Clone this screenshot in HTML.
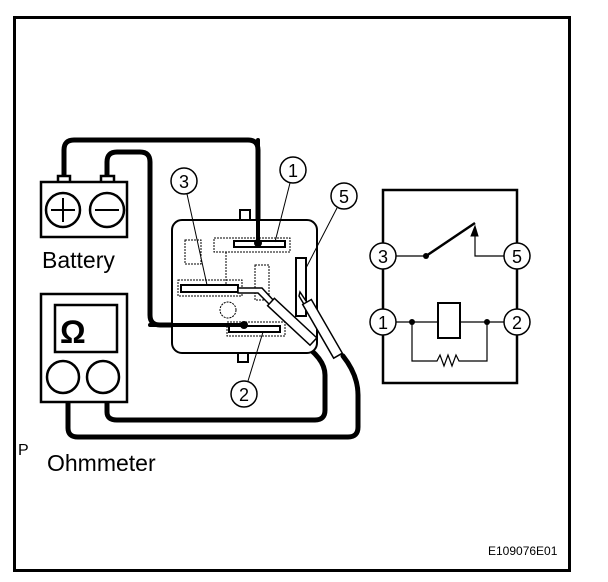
<!DOCTYPE html>
<html><head><meta charset="utf-8"><style>
html,body{margin:0;padding:0;background:#fff;}
svg{display:block;}
text{font-family:"Liberation Sans",Arial,sans-serif;fill:#000;}
</style></head><body>
<svg width="608" height="582" viewBox="0 0 608 582" xmlns="http://www.w3.org/2000/svg">
<rect x="14.5" y="17.5" width="555" height="553" fill="none" stroke="#000" stroke-width="3"/>
<g fill="none" stroke="#000" stroke-width="5" stroke-linejoin="round" stroke-linecap="round">
<path d="M64 176 V150 Q64 140 74 140 H248 Q258 140 258 150 V243"/>
<path d="M107 176 V162 Q107 152 117 152 H140 Q150 152 150 162 V315 Q150 325 160 325 H240"/>
<path d="M68 402 V428 Q68 437 78 437 H348 Q358 437 358 427 V395 Q358 375 343 356"/>
<path d="M107 402 V412 Q107 420 117 420 H315 Q325 420 325 410 V375 Q325 358 300 342"/>
</g>
<g fill="#fff" stroke="#000" stroke-width="2.5">
<rect x="58" y="176" width="12" height="7"/><rect x="101" y="176" width="13" height="7"/>
<rect x="41" y="182" width="86" height="55"/>
<circle cx="63" cy="210" r="17"/><circle cx="107" cy="210" r="17"/>
<rect x="41" y="294" width="86" height="108"/>
<rect x="55" y="305" width="62" height="47"/>
<circle cx="63" cy="377" r="16"/><circle cx="103" cy="377" r="16"/>
</g>
<g stroke="#000" stroke-width="2"><path d="M51 210H75M63 198V222M95 210H119"/></g>
<text x="60" y="343" font-size="32" font-weight="bold">Ω</text>
<text x="42" y="268" font-size="23">Battery</text>
<text x="18" y="455" font-size="16">P</text>
<text x="47" y="471" font-size="23">Ohmmeter</text>
<text x="488" y="555" font-size="12">E109076E01</text>
<!-- relay -->
<g fill="#fff" stroke="#000" stroke-width="2">
<rect x="240" y="210" width="10" height="12"/><rect x="238" y="350" width="10" height="12"/>
<rect x="172" y="220" width="145" height="133" rx="10"/>
</g>
<g fill="none" stroke="#000" stroke-width="1" stroke-dasharray="2 1">
<rect x="185" y="240" width="16" height="24"/>
<rect x="214" y="238" width="76" height="14"/>
<path d="M226 252V290"/><rect x="255" y="265" width="14" height="35"/>
<rect x="178" y="280" width="64" height="16"/>
<rect x="227" y="322" width="58" height="14"/>
<circle cx="228" cy="310" r="8"/>
</g>
<g fill="#fff" stroke="#000" stroke-width="2">
<rect x="234" y="241" width="51" height="6"/>
<rect x="181" y="285" width="57" height="7"/>
<rect x="229" y="326" width="51" height="6"/>
<rect x="296" y="258" width="10" height="58"/>
</g>
<g fill="none" stroke="#000" stroke-width="4" stroke-linecap="round">
<path d="M258 140V244"/><path d="M150 325H245"/>
</g>
<circle cx="258" cy="243" r="4"/><circle cx="244" cy="325" r="4"/>
<!-- probes -->
<g stroke="#000" stroke-width="1.5" fill="#fff">
<path d="M238 288 L262 288 L275 302 L271 306 L258 293 L238 293 Z"/>
<rect x="0" y="-5" width="58" height="10" transform="translate(271 302) rotate(43)"/>
<path d="M300 292 L308 304 L305 306 L299 296 Z"/>
<rect x="0" y="-5" width="62" height="10" transform="translate(307 302) rotate(60)"/>
</g>
<!-- callouts -->
<g stroke="#000" stroke-width="1" fill="none">
<path d="M187 194 L207 285"/><path d="M290 183 L275 242"/><path d="M337 208 L306 268"/><path d="M248 381 L263 332"/>
</g>
<g fill="#fff" stroke="#000" stroke-width="1.5">
<circle cx="184" cy="181" r="13"/><circle cx="293" cy="170" r="13"/><circle cx="344" cy="196" r="13"/><circle cx="244" cy="394" r="13"/>
</g>
<g font-size="18" text-anchor="middle">
<text x="184" y="188">3</text><text x="293" y="177">1</text><text x="344" y="203">5</text><text x="244" y="401">2</text>
</g>
<!-- schematic -->
<rect x="383" y="190" width="134" height="193" fill="none" stroke="#000" stroke-width="2.5"/>
<g stroke="#000" stroke-width="1.2" fill="none">
<path d="M396 256H426"/><path d="M504 256H475V232"/>
<path d="M396 322H438M460 322H504"/>
<path d="M412 322V361H437L440 355L444 366L448 355L452 366L456 355L459 361H487V322"/>
</g>
<path d="M426 256L475 223" stroke="#000" stroke-width="2.5"/>
<path d="M471 236L475 226L478 236Z" fill="#000" stroke="#000"/>
<rect x="438" y="303" width="22" height="35" fill="#fff" stroke="#000" stroke-width="2"/>
<circle cx="426" cy="256" r="3"/><circle cx="412" cy="322" r="3"/><circle cx="487" cy="322" r="3"/>
<g fill="#fff" stroke="#000" stroke-width="1.5">
<circle cx="383" cy="256" r="13"/><circle cx="517" cy="256" r="13"/><circle cx="383" cy="322" r="13"/><circle cx="517" cy="322" r="13"/>
</g>
<g font-size="18" text-anchor="middle">
<text x="383" y="263">3</text><text x="517" y="263">5</text><text x="383" y="329">1</text><text x="517" y="329">2</text>
</g>
</svg>
</body></html>
